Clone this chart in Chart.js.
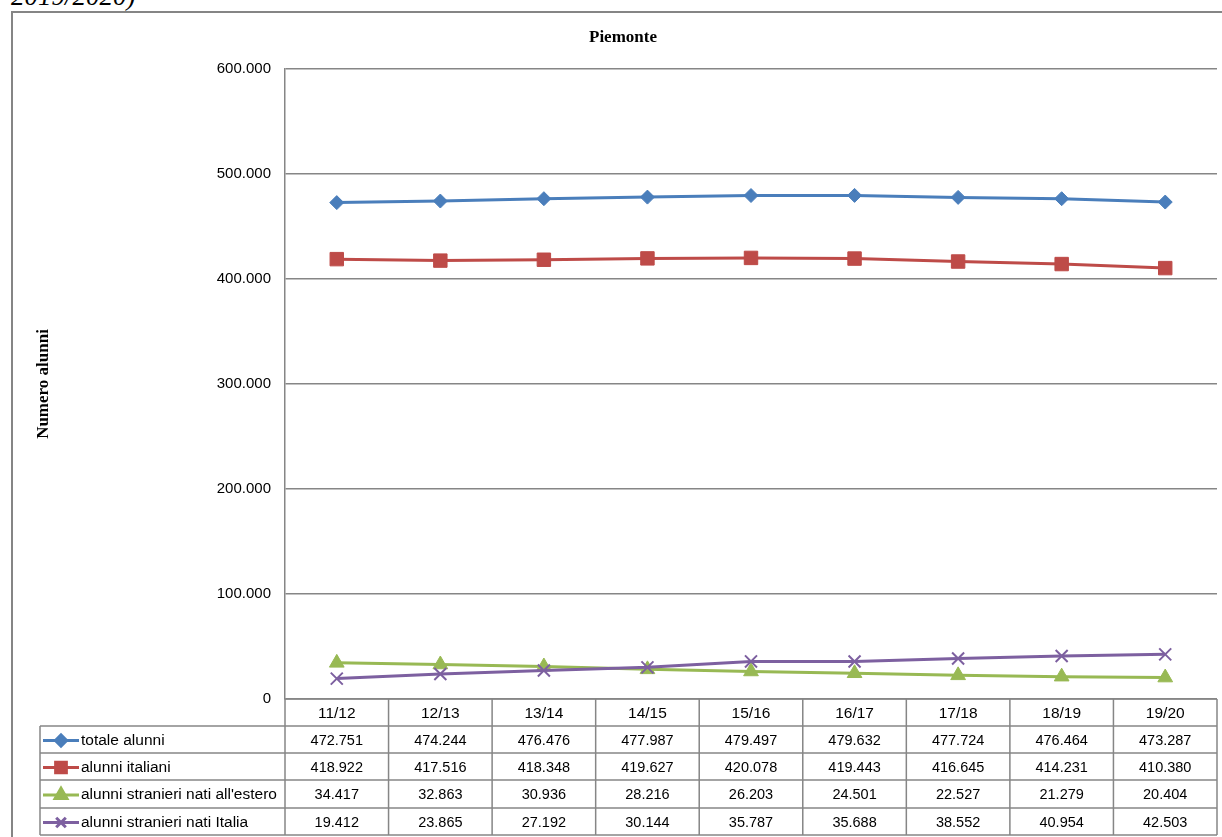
<!DOCTYPE html>
<html lang="it">
<head>
<meta charset="utf-8">
<title>Piemonte - Numero alunni</title>
<script src="https://cdn.jsdelivr.net/npm/chart.js@4/dist/chart.umd.min.js"></script>
<style>
  html, body { margin: 0; padding: 0; background: #fff; overflow: hidden; }
  body { width: 1222px; height: 837px; position: relative; }
  .caption {
    position: absolute; left: 11px; top: -19px;
    font: italic 27px "Liberation Serif", "Times New Roman", serif;
    color: #000; white-space: nowrap;
  }
  .frame {
    position: absolute; left: 11px; top: 11px;
    width: 1260px; height: 880px;
    border: 2px solid #858585; box-sizing: border-box;
  }
  #wrap { position: absolute; left: 0; top: 0; width: 1222px; height: 837px; }
</style>
</head>
<body>
<div class="caption">2019/2020)</div>
<div class="frame"></div>
<div id="wrap"><canvas id="chart" width="1222" height="837"></canvas></div>
<script>
// School years
const categories = ['11/12', '12/13', '13/14', '14/15', '15/16', '16/17', '17/18', '18/19', '19/20'];

// Pupils per series
const totaleAlunni     = [472751, 474244, 476476, 477987, 479497, 479632, 477724, 476464, 473287];
const alunniItaliani   = [418922, 417516, 418348, 419627, 420078, 419443, 416645, 414231, 410380];
const stranieriEstero  = [34417, 32863, 30936, 28216, 26203, 24501, 22527, 21279, 20404];
const stranieriItalia  = [19412, 23865, 27192, 30144, 35787, 35688, 38552, 40954, 42503];

// Y axis tick values
const yTicks = [0, 100000, 200000, 300000, 400000, 500000, 600000];

const chartTitle = 'Piemonte';
const yTitle = 'Numero alunni';

function fmt(v) {
  return String(Math.round(v)).replace(/\B(?=(\d{3})+(?!\d))/g, '.');
}

const GRID = '#868686';
const TEXT_FONT = '"Liberation Sans", Arial, sans-serif';
const SERIF_FONT = '"Liberation Serif", "Times New Roman", serif';

const series = [
  { label: 'totale alunni', data: totaleAlunni, color: '#4A7EBB', pointStyle: 'rectRot', radius: 7, order: 3 },
  { label: 'alunni italiani', data: alunniItaliani, color: '#BE4B48', pointStyle: 'rect', radius: 9.5, order: 2 },
  { label: "alunni stranieri nati all'estero", data: stranieriEstero, color: '#98B954', pointStyle: 'triangle', radius: 8.5, order: 1 },
  { label: 'alunni stranieri nati Italia', data: stranieriItalia, color: '#7D60A0', pointStyle: 'crossRot', radius: 8.5, order: 0 }
];

// Draws the chart title, the rotated y axis title and the data table under the plot
const tablePlugin = {
  id: 'dataTable',
  afterDraw(chart) {
    const ctx = chart.ctx;
    const area = chart.chartArea;
    const xs = chart.scales.x;
    const n = categories.length;
    const colW = (area.right - area.left) / n;
    const legendLeft = 40;
    const rowTops = [area.bottom, 726, 753, 780, 808, 835];

    ctx.save();
    // chart title
    ctx.fillStyle = '#000';
    ctx.font = 'bold 17px ' + SERIF_FONT;
    ctx.textAlign = 'center';
    ctx.textBaseline = 'middle';
    ctx.fillText(chartTitle, 623, 38);

    // y axis title
    ctx.save();
    ctx.translate(44, (area.top + area.bottom) / 2);
    ctx.rotate(-Math.PI / 2);
    ctx.fillText(yTitle, 0, 0);
    ctx.restore();

    // table grid
    ctx.strokeStyle = GRID;
    ctx.lineWidth = 1.5;
    ctx.beginPath();
    ctx.moveTo(area.left, rowTops[0]);
    ctx.lineTo(area.right, rowTops[0]);
    for (let r = 1; r < rowTops.length; r++) {
      ctx.moveTo(legendLeft, rowTops[r]);
      ctx.lineTo(area.right, rowTops[r]);
    }
    for (let i = 0; i <= n; i++) {
      const x = area.left + i * colW;
      ctx.moveTo(x, rowTops[0]);
      ctx.lineTo(x, rowTops[rowTops.length - 1]);
    }
    ctx.moveTo(legendLeft, rowTops[1]);
    ctx.lineTo(legendLeft, rowTops[rowTops.length - 1]);
    ctx.stroke();

    // header labels
    ctx.fillStyle = '#000';
    ctx.font = '15.5px ' + TEXT_FONT;
    ctx.textAlign = 'center';
    ctx.textBaseline = 'middle';
    categories.forEach((c, i) => {
      ctx.fillText(c, xs.getPixelForValue(i), (rowTops[0] + rowTops[1]) / 2 + 1);
    });

    // series rows
    series.forEach((s, r) => {
      const yMid = (rowTops[r + 1] + rowTops[r + 2]) / 2 + 1;
      ctx.strokeStyle = s.color;
      ctx.lineWidth = 3;
      ctx.beginPath();
      ctx.moveTo(43, yMid);
      ctx.lineTo(79, yMid);
      ctx.stroke();
      ctx.fillStyle = s.color;
      ctx.strokeStyle = s.color;
      Chart.helpers.drawPoint(ctx, {
        pointStyle: s.pointStyle,
        radius: s.radius * 0.8,
        rotation: 0,
        borderWidth: s.pointStyle === 'crossRot' ? 2 : 1
      }, 61, yMid);

      ctx.fillStyle = '#000';
      ctx.textAlign = 'left';
      ctx.font = '15.5px ' + TEXT_FONT;
      ctx.fillText(s.label, 81, yMid);
      ctx.textAlign = 'center';
      ctx.font = '14.5px ' + TEXT_FONT;
      s.data.forEach((v, i) => {
        ctx.fillText(fmt(v), xs.getPixelForValue(i), yMid);
      });
    });
    ctx.restore();
  }
};

new Chart(document.getElementById('chart'), {
  type: 'line',
  data: {
    labels: categories,
    datasets: series.map(s => ({
      label: s.label,
      data: s.data,
      order: s.order,
      borderColor: s.color,
      backgroundColor: s.color,
      borderWidth: 3,
      pointStyle: s.pointStyle,
      pointRadius: s.radius,
      pointBorderWidth: s.pointStyle === 'crossRot' ? 2 : 1,
      pointBorderColor: s.color,
      pointBackgroundColor: s.color,
      tension: 0,
      fill: false
    }))
  },
  options: {
    responsive: false,
    animation: false,
    devicePixelRatio: 1,
    layout: { autoPadding: false, padding: { top: 69, right: 5, bottom: 0, left: 0 } },
    plugins: {
      legend: { display: false },
      title: { display: false },
      tooltip: { enabled: false }
    },
    scales: {
      x: {
        type: 'category',
        offset: true,
        grid: { display: false, drawTicks: false },
        border: { display: false },
        ticks: { display: false },
        afterFit(scale) { scale.height = 837 - 699; }
      },
      y: {
        min: 0,
        max: 600000,
        afterBuildTicks(scale) { scale.ticks = yTicks.map(v => ({ value: v })); },
        ticks: {
          padding: 14,
          color: '#000',
          font: { family: TEXT_FONT, size: 15 },
          callback: v => fmt(v)
        },
        grid: { color: GRID, lineWidth: 1.5, drawTicks: false },
        border: { display: true, color: GRID, width: 1.5 },
        afterFit(scale) { scale.width = 285; }
      }
    }
  },
  plugins: [tablePlugin]
});
</script>
</body>
</html>
